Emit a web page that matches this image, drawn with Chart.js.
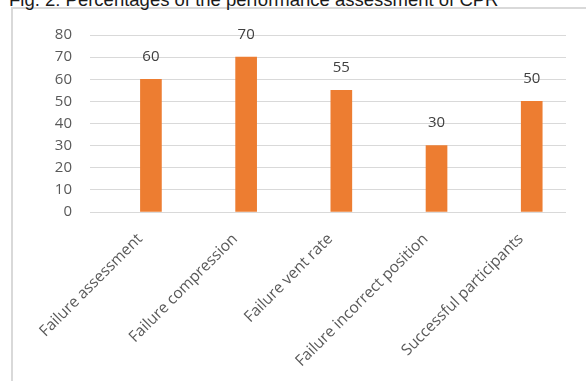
<!DOCTYPE html>
<html>
<head>
<meta charset="utf-8">
<script src="https://cdn.jsdelivr.net/npm/chart.js@4/dist/chart.umd.min.js"></script>
<style>
  html, body { margin: 0; padding: 0; background: #fff; overflow: hidden; }
  #wrap { position: relative; width: 586px; height: 381px; }
  #title {
    position: absolute; left: 9px; top: -9px; white-space: nowrap;
    font: 18.5px "Liberation Sans", Arial, sans-serif; line-height: 18px; color: #1a1a1a;
  }
  #frame {
    position: absolute; left: 11px; top: 7px; right: -10px; bottom: -10px;
    border-left: 2px solid #d9d9d9; border-top: 2px solid #d9d9d9;
  }
  canvas { position: absolute; left: 0; top: 0; }
</style>
</head>
<body>
<div id="wrap">
  <div id="frame"></div>
  <div id="title">Fig. 2: Percentages of the performance assessment of CPR</div>
  <canvas id="cprChart" width="586" height="381"></canvas>
</div>
<script>
const categories = ['Failure assessment', 'Failure compression', 'Failure vent rate', 'Failure incorrect position', 'Successful participants'];
const percentages = [60, 70, 55, 30, 50];
const yMax = 80;
const yStep = 10;

const ctx = document.getElementById('cprChart').getContext('2d');

// value labels above the bars
const barLabels = {
    id: 'barLabels',
    afterDatasetsDraw(chart) {
        const c = chart.ctx;
        const meta = chart.getDatasetMeta(0);
        c.save();
        c.font = '15px "Open Sans"';
        c.fillStyle = '#404040';
        c.textAlign = 'center';
        c.textBaseline = 'bottom';
        meta.data.forEach((bar, i) => {
            c.fillText(String(percentages[i]), bar.x, bar.y - 15);
        });
        c.restore();
    }
};

new Chart(ctx, {
    type: 'bar',
    data: {
        datasets: [{
            data: percentages.map((v, i) => ({ x: i, y: v })),
            backgroundColor: '#ED7D31',
            borderWidth: 0,
            barThickness: 21
        }]
    },
    options: {
        responsive: false,
        animation: false,
        layout: { padding: { top: 35, right: 20, left: 0, bottom: 0 } },
        plugins: { legend: { display: false }, tooltip: { enabled: false } },
        scales: {
            x: {
                type: 'linear',
                offset: false,
                min: -0.64,
                max: 4.36,
                grid: { display: false },
                border: { display: false },
                afterBuildTicks: s => { s.ticks = categories.map((c, i) => ({ value: i })); },
                afterFit: s => { s.height = 381 - 212; },
                ticks: {
                    autoSkip: false,
                    minRotation: 45,
                    maxRotation: 45,
                    padding: 10,
                    labelOffset: -11,
                    color: '#595959',
                    font: { size: 15.5, family: 'Open Sans' },
                    callback: v => categories[v] ?? ''
                }
            },
            y: {
                min: 0,
                max: yMax,
                afterFit: s => { s.width = 90; },
                grid: { color: '#d9d9d9', lineWidth: 1, drawTicks: false },
                border: { display: false },
                ticks: {
                    stepSize: yStep,
                    padding: 18,
                    color: '#595959',
                    font: { size: 15, family: 'Open Sans' }
                }
            }
        }
    },
    plugins: [barLabels]
});
</script>
</body>
</html>
